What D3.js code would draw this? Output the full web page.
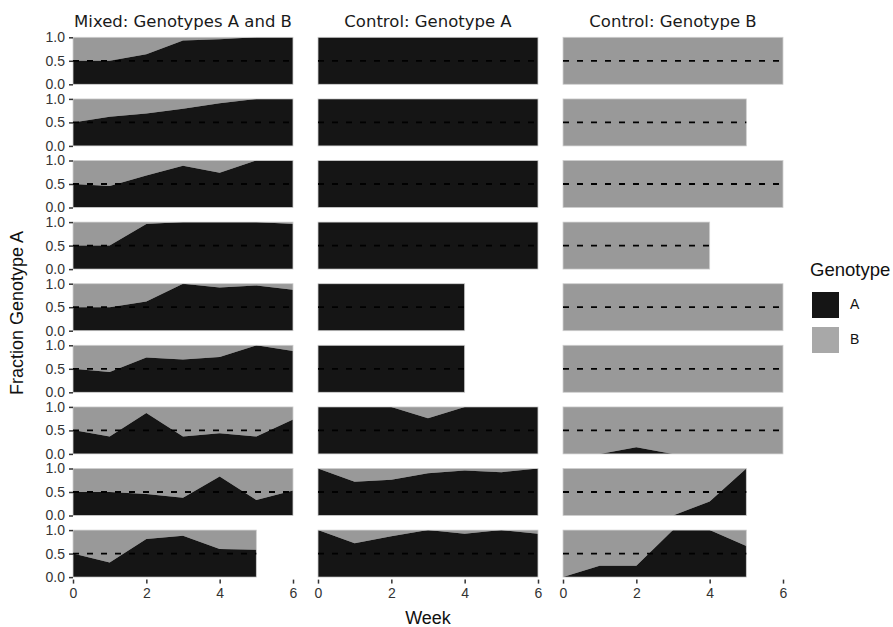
<!DOCTYPE html>
<html>
<head>
<meta charset="utf-8">
<script src="https://cdn.jsdelivr.net/npm/d3@7"></script>
<style>
  body { margin: 0; background: #fff; }
  svg text { font-family: "Liberation Sans", Arial, sans-serif; }
</style>
</head>
<body>
<svg id="chart" width="893" height="627"></svg>
<script>
// facet titles
const panelTitles = ["Mixed: Genotypes A and B", "Control: Genotype A", "Control: Genotype B"];
const genotypes = ["A", "B"];
const xTicks = [0, 2, 4, 6];
const yTicks = [0, 0.5, 1];

// fraction of genotype A per week (index = week), one list per replicate
const mixed = [
  [0.5, 0.5, 0.64, 0.93, 0.96, 1.0, 1.0],
  [0.5, 0.62, 0.69, 0.79, 0.91, 1.0, 1.0],
  [0.5, 0.46, 0.68, 0.89, 0.74, 1.0, 1.0],
  [0.5, 0.5, 0.96, 1.0, 1.0, 1.0, 0.96],
  [0.5, 0.5, 0.62, 1.0, 0.92, 0.96, 0.87],
  [0.5, 0.43, 0.74, 0.7, 0.75, 1.0, 0.88],
  [0.51, 0.37, 0.87, 0.37, 0.44, 0.37, 0.73],
  [0.5, 0.5, 0.46, 0.38, 0.83, 0.33, 0.53],
  [0.5, 0.31, 0.81, 0.88, 0.6, 0.58]
];
const controlA = [
  [1, 1, 1, 1, 1, 1, 1],
  [1, 1, 1, 1, 1, 1, 1],
  [1, 1, 1, 1, 1, 1, 1],
  [1, 1, 1, 1, 1, 1, 1],
  [1, 1, 1, 1, 1],
  [1, 1, 1, 1, 1],
  [1, 1, 1, 0.76, 1, 1, 1],
  [1, 0.72, 0.76, 0.9, 0.96, 0.92, 1],
  [1, 0.72, 0.87, 1, 0.92, 1, 0.92]
];
const controlB = [
  [0, 0, 0, 0, 0, 0, 0],
  [0, 0, 0, 0, 0, 0],
  [0, 0, 0, 0, 0, 0, 0],
  [0, 0, 0, 0, 0],
  [0, 0, 0, 0, 0, 0, 0],
  [0, 0, 0, 0, 0, 0, 0],
  [0, 0, 0.14, 0, 0, 0, 0],
  [0, 0, 0, 0, 0.3, 1.0],
  [0, 0.24, 0.24, 1.0, 1.0, 0.66]
];
const columns = [mixed, controlA, controlB];

const colA = "#151515", colB = "#999999";
const svg = d3.select("#chart");

const colX = [73, 318, 563];   // left edge of each facet column
const panelW = 220, panelH = 47, rowTop = 37.3, rowStep = 61.6;

const x = d3.scaleLinear().domain([0, 6]).range([0, panelW]);
const y = d3.scaleLinear().domain([0, 1]).range([panelH, 0]);

const areaA = d3.area().x((d, i) => x(i)).y0(y(0)).y1(d => y(d));
const areaB = d3.area().x((d, i) => x(i)).y0(d => y(d)).y1(y(1));

columns.forEach((rows, c) => {
  // strip title
  svg.append("text")
    .attr("x", colX[c] + panelW / 2).attr("y", 27)
    .attr("text-anchor", "middle")
    .style("font-family", "'DejaVu Sans', Verdana, sans-serif")
    .style("font-size", "16.5px").attr("fill", "#1a1a1a")
    .text(panelTitles[c]);

  rows.forEach((vals, r) => {
    const g = svg.append("g").attr("transform", "translate(" + colX[c] + "," + (rowTop + r * rowStep) + ")");
    const last = vals.length - 1;
    g.append("path").datum(vals).attr("d", areaB).attr("fill", colB);
    g.append("path").datum(vals).attr("d", areaA).attr("fill", colA);
    g.append("rect")
      .attr("x", 0).attr("y", 0).attr("width", x(last)).attr("height", panelH)
      .attr("fill", "none").attr("stroke", "#cfcfcf").attr("stroke-width", 0.8);
    g.append("line")
      .attr("x1", x(0)).attr("x2", x(last)).attr("y1", y(0.5)).attr("y2", y(0.5))
      .attr("stroke", "#000").attr("stroke-width", 1.8).attr("stroke-dasharray", "6,8");

    if (c === 0) {
      const ay = g.append("g").call(d3.axisLeft(y).tickValues(yTicks).tickFormat(d3.format(".1f")).tickSize(4).tickPadding(4));
      ay.select(".domain").remove();
      ay.selectAll("line").attr("stroke", "#333").attr("stroke-width", 1.5);
      ay.selectAll("text").style("font-size", "14px").attr("fill", "#333");
    }
    if (r === rows.length - 1) {
      const ax = svg.append("g")
        .attr("transform", "translate(" + colX[c] + "," + (rowTop + r * rowStep + panelH + 2.5) + ")")
        .call(d3.axisBottom(x).tickValues(xTicks).tickFormat(d3.format("d")).tickSize(4).tickPadding(4));
      ax.select(".domain").remove();
      ax.selectAll("line").attr("stroke", "#333").attr("stroke-width", 1.5);
      ax.selectAll("text").style("font-size", "14px").attr("fill", "#333");
    }
  });
});

// axis titles
svg.append("text").attr("x", 428).attr("y", 624).attr("text-anchor", "middle")
  .style("font-size", "18px").attr("fill", "#111").text("Week");
svg.append("text").attr("transform", "translate(23,313) rotate(-90)").attr("text-anchor", "middle")
  .style("font-size", "18px").attr("fill", "#111").text("Fraction Genotype A");

// legend
const leg = svg.append("g").attr("transform", "translate(808,0)");
leg.append("text").attr("x", 2).attr("y", 276).style("font-size", "18.5px").attr("fill", "#111").text("Genotype");
leg.selectAll("rect.key").data(genotypes).enter().append("rect")
  .attr("x", 4).attr("y", (d, i) => 292 + i * 35).attr("width", 27).attr("height", 26)
  .attr("fill", (d, i) => i === 0 ? colA : "#a8a8a8");
leg.selectAll("text.lab").data(genotypes).enter().append("text")
  .attr("x", 42).attr("y", (d, i) => 305 + i * 35).attr("dominant-baseline", "middle")
  .style("font-size", "14px").attr("fill", "#111").text(d => d);
</script>
</body>
</html>
